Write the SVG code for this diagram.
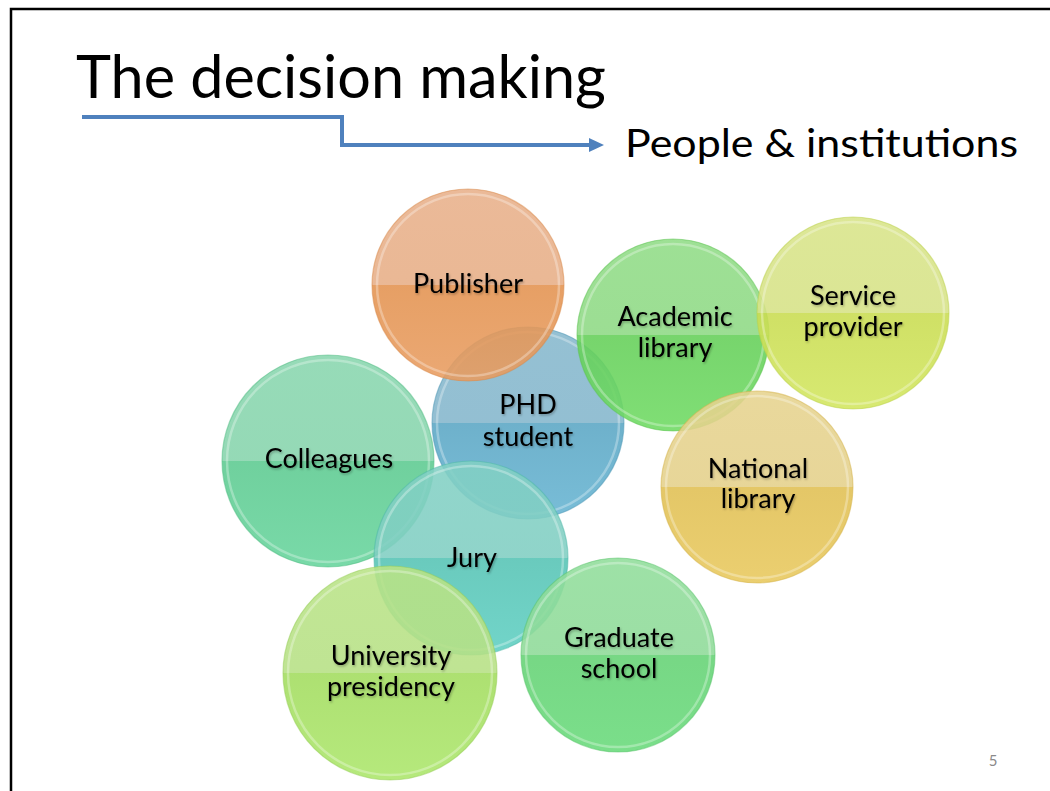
<svg xmlns="http://www.w3.org/2000/svg" width="1050" height="791" viewBox="0 0 1050 791">
<style>
  .title{font-family:Lato,"Open Sans","Liberation Sans",sans-serif;fill:#000}
  .lbl{font-family:Lato,"Open Sans","Liberation Sans",sans-serif;font-size:27px;fill:#000;text-anchor:middle;filter:url(#tshadow)}
  .bubble{fill-opacity:0.88;stroke-width:1.2;stroke-opacity:0.5}
  .ring{fill:none;stroke:#ffffff;stroke-opacity:0.3;stroke-width:2.5}
  .conn{fill:none;stroke:#4F81BD;stroke-width:4}
</style>
<defs>
  <filter id="tshadow" x="-20%" y="-40%" width="140%" height="180%">
    <feDropShadow dx="1" dy="1.5" stdDeviation="1" flood-color="#000" flood-opacity="0.28"/>
  </filter>
  <marker id="arrow" markerUnits="userSpaceOnUse" markerWidth="16" markerHeight="16" refX="1" refY="8" orient="auto">
    <path d="M0,1 L15,8 L0,15 z" fill="#4F81BD"/>
  </marker>
  <linearGradient id="gPub" x1="0" y1="0" x2="0" y2="1">
    <stop offset="0" stop-color="#E8B08A"/><stop offset="0.5" stop-color="#E7AE86"/>
    <stop offset="0.5" stop-color="#E3924F"/><stop offset="1" stop-color="#E89C60"/>
  </linearGradient>
  <linearGradient id="gPhd" x1="0" y1="0" x2="0" y2="1">
    <stop offset="0" stop-color="#86B8CD"/><stop offset="0.5" stop-color="#84B6CC"/>
    <stop offset="0.5" stop-color="#5AA6C4"/><stop offset="1" stop-color="#66B4D2"/>
  </linearGradient>
  <linearGradient id="gCol" x1="0" y1="0" x2="0" y2="1">
    <stop offset="0" stop-color="#88D6AE"/><stop offset="0.5" stop-color="#86D4AC"/>
    <stop offset="0.5" stop-color="#5CCA90"/><stop offset="1" stop-color="#66D49C"/>
  </linearGradient>
  <linearGradient id="gJury" x1="0" y1="0" x2="0" y2="1">
    <stop offset="0" stop-color="#82D0C4"/><stop offset="0.5" stop-color="#80CEC2"/>
    <stop offset="0.5" stop-color="#55C3B4"/><stop offset="1" stop-color="#5ECFC2"/>
  </linearGradient>
  <linearGradient id="gAca" x1="0" y1="0" x2="0" y2="1">
    <stop offset="0" stop-color="#90DC86"/><stop offset="0.5" stop-color="#8ED984"/>
    <stop offset="0.5" stop-color="#64CF58"/><stop offset="1" stop-color="#6EDA62"/>
  </linearGradient>
  <linearGradient id="gSer" x1="0" y1="0" x2="0" y2="1">
    <stop offset="0" stop-color="#D8E488"/><stop offset="0.5" stop-color="#D6E286"/>
    <stop offset="0.5" stop-color="#C9DC50"/><stop offset="1" stop-color="#D2E65E"/>
  </linearGradient>
  <linearGradient id="gNat" x1="0" y1="0" x2="0" y2="1">
    <stop offset="0" stop-color="#E6D38E"/><stop offset="0.5" stop-color="#E4D08A"/>
    <stop offset="0.5" stop-color="#E0BF52"/><stop offset="1" stop-color="#E8C85C"/>
  </linearGradient>
  <linearGradient id="gUni" x1="0" y1="0" x2="0" y2="1">
    <stop offset="0" stop-color="#B9E386"/><stop offset="0.5" stop-color="#B6E084"/>
    <stop offset="0.5" stop-color="#A2DC5E"/><stop offset="1" stop-color="#ABE66A"/>
  </linearGradient>
  <linearGradient id="gGra" x1="0" y1="0" x2="0" y2="1">
    <stop offset="0" stop-color="#90DD9A"/><stop offset="0.5" stop-color="#8EDA98"/>
    <stop offset="0.5" stop-color="#64D274"/><stop offset="1" stop-color="#68DA7A"/>
  </linearGradient>
</defs>

<rect x="0" y="0" width="1050" height="791" fill="#ffffff"/>
<path d="M11,791 L11,9 L1050,9" fill="none" stroke="#000" stroke-width="2.5"/>

<text class="title" x="76" y="98" font-size="60" textLength="530" lengthAdjust="spacingAndGlyphs">The decision making</text>
<text class="title" x="625" y="157" font-size="38" textLength="393" lengthAdjust="spacingAndGlyphs">People &amp; institutions</text>
<text x="993" y="766" font-family="Lato,'Open Sans','Liberation Sans',sans-serif" font-size="15" fill="#8A8A8A" text-anchor="middle">5</text>

<g id="connectors">
  <polyline class="conn" points="82,117 342,117 342,145 590,145" marker-end="url(#arrow)"/>
</g>

<g id="phd-student">
  <circle class="bubble" cx="528" cy="423" r="96" fill="url(#gPhd)" stroke="#4E98B6"/>
  <circle class="ring" cx="528" cy="423" r="91"/>
  <text class="lbl" x="528" y="414">PHD</text>
  <text class="lbl" x="528" y="446">student</text>
</g>
<g id="publisher">
  <circle class="bubble" cx="468" cy="285" r="96" fill="url(#gPub)" stroke="#D98A4A"/>
  <circle class="ring" cx="468" cy="285" r="91"/>
  <text class="lbl" x="468" y="293">Publisher</text>
</g>
<g id="academic-library">
  <circle class="bubble" cx="673" cy="335" r="96" fill="url(#gAca)" stroke="#5CC450"/>
  <circle class="ring" cx="673" cy="335" r="91"/>
  <text class="lbl" x="675" y="326">Academic</text>
  <text class="lbl" x="675" y="357">library</text>
</g>
<g id="service-provider">
  <circle class="bubble" cx="853" cy="313" r="96" fill="url(#gSer)" stroke="#BCD24A"/>
  <circle class="ring" cx="853" cy="313" r="91"/>
  <text class="lbl" x="853" y="305">Service</text>
  <text class="lbl" x="853" y="336">provider</text>
</g>
<g id="national-library">
  <circle class="bubble" cx="757" cy="487" r="96" fill="url(#gNat)" stroke="#D6B44A"/>
  <circle class="ring" cx="757" cy="487" r="91"/>
  <text class="lbl" x="758" y="478">National</text>
  <text class="lbl" x="758" y="508">library</text>
</g>
<g id="colleagues">
  <circle class="bubble" cx="328" cy="461" r="106" fill="url(#gCol)" stroke="#52BE84"/>
  <circle class="ring" cx="328" cy="461" r="101"/>
  <text class="lbl" x="329" y="468">Colleagues</text>
</g>
<g id="jury">
  <circle class="bubble" cx="471" cy="558" r="97" fill="url(#gJury)" stroke="#4CB8A8"/>
  <circle class="ring" cx="471" cy="558" r="92"/>
  <text class="lbl" x="472" y="567">Jury</text>
</g>
<g id="university-presidency">
  <circle class="bubble" cx="390" cy="673" r="107" fill="url(#gUni)" stroke="#96CE56"/>
  <circle class="ring" cx="390" cy="673" r="102"/>
  <text class="lbl" x="391" y="665">University</text>
  <text class="lbl" x="391" y="696">presidency</text>
</g>
<g id="graduate-school">
  <circle class="bubble" cx="618" cy="655" r="97" fill="url(#gGra)" stroke="#58C46A"/>
  <circle class="ring" cx="618" cy="655" r="92"/>
  <text class="lbl" x="619" y="647">Graduate</text>
  <text class="lbl" x="619" y="678">school</text>
</g>
</svg>
